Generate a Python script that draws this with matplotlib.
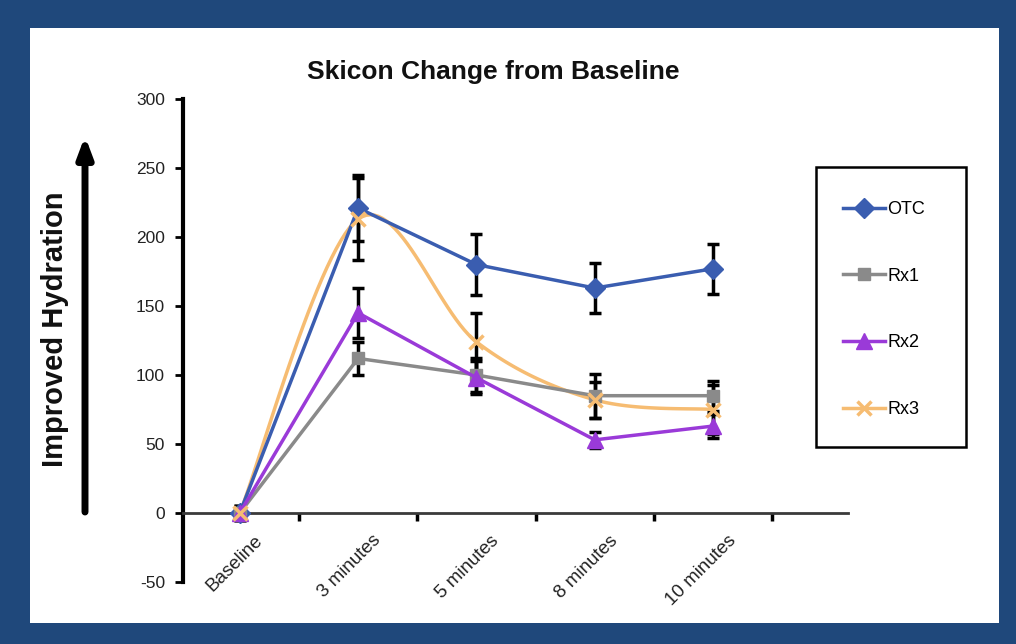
import numpy as np
import matplotlib
matplotlib.use("Agg")
import matplotlib.pyplot as plt
from matplotlib.patches import Rectangle

plt.rcParams['font.family'] = ['Liberation Sans', 'DejaVu Sans']

categories = ["Baseline", "3 minutes", "5 minutes", "8 minutes", "10 minutes"]
series_names = ["OTC", "Rx1", "Rx2", "Rx3"]
otc = [0, 221, 180, 163, 177]
otc_err = [5, 24, 22, 18, 18]
rx1 = [0, 112, 100, 85, 85]
rx1_err = [5, 12, 12, 16, 11]
rx2 = [0, 145, 98, 53, 63]
rx2_err = [5, 18, 12, 6, 9]
rx3 = [0, 213, 124, 82, 75]
rx3_err = [5, 30, 21, 13, 18]
yticks = [-50, 0, 50, 100, 150, 200, 250, 300]

W, H = 1016, 644
fig = plt.figure(figsize=(W / 100, H / 100), dpi=100, facecolor='#1F487B')
fig.patches.append(Rectangle((30 / W, (H - 623) / H), 969 / W, 595 / H,
                             transform=fig.transFigure, facecolor='white',
                             edgecolor='none', zorder=-10))
fig.patches.append(Rectangle((816 / W, (H - 447) / H), 150 / W, 280 / H,
                             transform=fig.transFigure, facecolor='none',
                             edgecolor='black', lw=1.8, zorder=5))

ax = fig.add_axes([183 / W, (H - 582) / H, (848 - 183) / W, (582 - 99) / H])
ax.set_facecolor('none')

x = np.arange(len(categories))


def smooth(xs, ys, n=30):
    xs = np.asarray(xs, float)
    ys = np.asarray(ys, float)
    px = np.concatenate([[xs[0]], xs, [xs[-1]]])
    py = np.concatenate([[ys[0]], ys, [ys[-1]]])
    outx, outy = [], []
    for i in range(1, len(px) - 2):
        p0 = np.array([px[i - 1], py[i - 1]])
        p1 = np.array([px[i], py[i]])
        p2 = np.array([px[i + 1], py[i + 1]])
        p3 = np.array([px[i + 2], py[i + 2]])
        c1 = p1 + (p2 - p0) / 6
        c2 = p2 - (p3 - p1) / 6
        t = np.linspace(0, 1, n)[:, None]
        b = ((1 - t) ** 3) * p1 + 3 * ((1 - t) ** 2) * t * c1 + 3 * (1 - t) * t ** 2 * c2 + t ** 3 * p2
        outx.extend(b[:, 0])
        outy.extend(b[:, 1])
    return np.array(outx), np.array(outy)


styles = {
    "OTC": dict(color='#3A5DB0', marker='D', ms=10),
    "Rx1": dict(color='#8A8A8A', marker='s', ms=9),
    "Rx2": dict(color='#9A3AD8', marker='^', ms=11),
    "Rx3": dict(color='#F6BC72', marker='x', ms=10),
}
data = {"OTC": (otc, otc_err), "Rx1": (rx1, rx1_err), "Rx2": (rx2, rx2_err), "Rx3": (rx3, rx3_err)}

handles = []
for name in series_names:
    vals, errs = data[name]
    ax.errorbar(x, vals, yerr=errs, fmt='none', ecolor='black', elinewidth=2.5,
                capsize=4, capthick=2.5, zorder=2)
for name in series_names:
    vals, errs = data[name]
    st = styles[name]
    if name == "Rx3":
        sx, sy = smooth(x, vals)
        ax.plot(sx, sy, color=st['color'], lw=2.5, zorder=3)
        ax.plot(x, vals, color=st['color'], ls='none', marker=st['marker'],
                ms=st['ms'], mew=2.5, zorder=4)
        hl, = ax.plot([], [], color=st['color'], lw=2.5, marker=st['marker'], ms=st['ms'], mew=2.5)
        handles.append(hl)
    else:
        h, = ax.plot(x, vals, color=st['color'], lw=2.5, marker=st['marker'], ms=st['ms'],
                     mec=st['color'], zorder=4)
        handles.append(h)

ax.set_xlim(-0.48, 5.14)
ax.set_ylim(-50, 300)

for s in ['top', 'right']:
    ax.spines[s].set_visible(False)
ax.spines['left'].set_linewidth(3)
ax.spines['left'].set_color('black')
ax.spines['bottom'].set_position(('data', 0))
ax.spines['bottom'].set_linewidth(2)
ax.spines['bottom'].set_color('#3a3a3a')

ax.set_yticks(yticks)
ax.set_yticklabels([str(v) for v in yticks])
ax.tick_params(axis='y', direction='out', length=6, width=2, labelsize=12.5,
               colors='black', labelcolor='#222222', pad=7)

ax.set_xticks(x)
ax.set_xticklabels([])
ax.set_xticks(np.arange(0.5, 5.0, 1.0), minor=True)
ax.tick_params(axis='x', which='major', length=0)
ax.tick_params(axis='x', which='minor', direction='out', length=6, width=2.5, colors='black')

for xi, lab in zip(x, categories):
    ax.annotate(lab, xy=(xi, 0), xycoords='data', xytext=(20, -25), textcoords='offset pixels',
                rotation=45, rotation_mode='anchor', ha='right', va='center',
                fontsize=13.5, color='#222222')

fig.text(493 / W, (H - 72) / H, "Skicon Change from Baseline", ha='center', va='center',
         fontsize=19, fontweight='bold', color='#111111')
fig.text(55 / W, (H - 329) / H, "Improved Hydration", ha='center', va='center',
         rotation=90, fontsize=21, fontweight='bold', color='#111111')

ax.annotate('', xy=(85, H - 136), xycoords='figure pixels',
            xytext=(85, H - 512), textcoords='figure pixels',
            arrowprops=dict(arrowstyle='-|>,head_length=1.2,head_width=0.45', lw=5, color='black',
                            shrinkA=0, shrinkB=0), annotation_clip=False)

leg = fig.legend(handles=handles, labels=series_names, loc='upper left',
                 bbox_to_anchor=(843 / W, (H - 201) / H), frameon=False,
                 fontsize=13, handlelength=2.3, handletextpad=0.15, labelspacing=2.75,
                 borderpad=0, borderaxespad=0)

fig.savefig('out.png', dpi=100, facecolor=fig.get_facecolor())
